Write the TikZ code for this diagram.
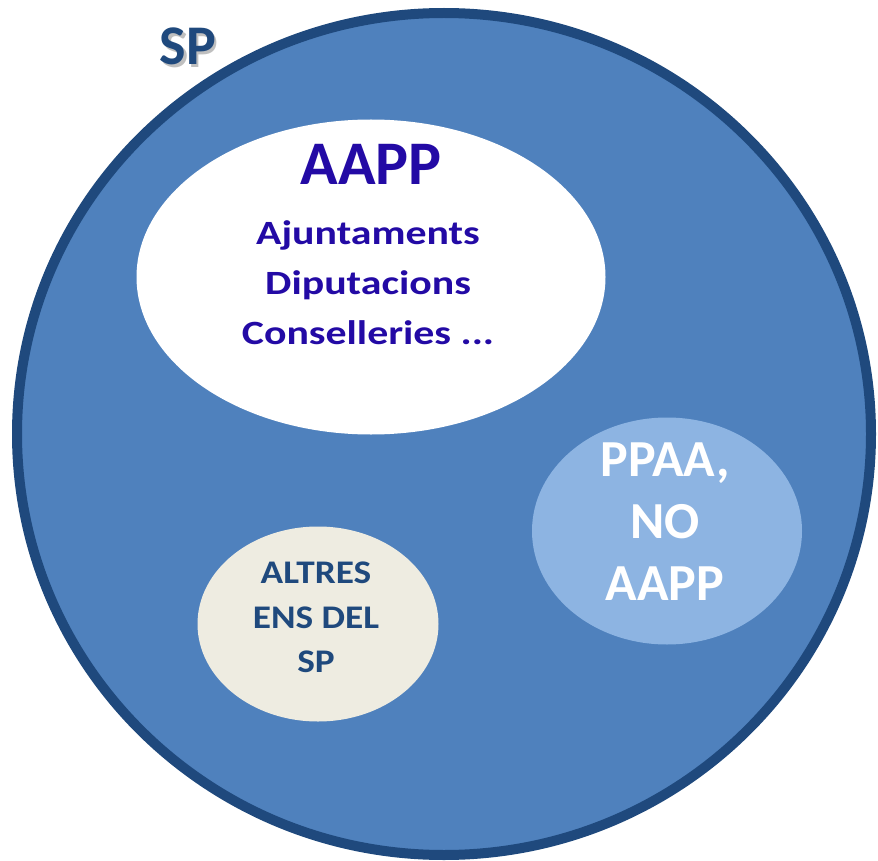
\documentclass[tikz,border=0pt]{standalone}
\usepackage{fontspec}
\setmainfont{Carlito}
\usetikzlibrary{shapes.geometric, positioning}
\definecolor{spblue}{RGB}{79,129,189}
\definecolor{spdark}{RGB}{31,73,125}
\definecolor{ppaablue}{RGB}{141,180,226}
\definecolor{altrescream}{RGB}{238,236,225}
\definecolor{aappviolet}{RGB}{35,10,165}
\tikzset{
set/.style={ellipse, inner sep=0pt}, % every set of the diagram
settext/.style={align=center, inner sep=0pt}, % the names written in a set
wide/.style={xscale=#1, transform shape}, % wider letters
}

\begin{document}
\begin{tikzpicture}[x=1pt, y=-1pt]
        \useasboundingbox (0,0) rectangle (878,861);
        % the sets
        \node[set, fill=spblue, draw=spdark, line width=10pt, minimum width=854pt, minimum height=842pt] (sp) at (444,434) {};
        \node[set, fill=white, minimum width=469pt, minimum height=315pt] (aapp) at (371,277) {};
        \node[set, fill=ppaablue, minimum width=270pt, minimum height=227pt] (ppaa) at (667,531) {};
        \node[set, fill=altrescream, minimum width=241pt, minimum height=195pt] (altres) at (318,624) {};
        % the names
        \node[settext, anchor=base, text=black!25, font=\bfseries\fontsize{56}{56}\selectfont] (spShadow) at (190.5,67.5) {SP};
        \node[settext, anchor=base, text=spdark, font=\bfseries\fontsize{56}{56}\selectfont] (spLabel) at (188,65) {SP};
        \node[settext, anchor=base, text=aappviolet, font=\bfseries\fontsize{62}{62}\selectfont] (aappTitle) at (371,185) {AAPP};
        \node[settext, wide=1.23, anchor=north, text=aappviolet, font=\bfseries\fontsize{34}{50}\selectfont] (aappList) at (368,220) {Ajuntaments\\Diputacions\\Conselleries ...};
        \node[settext, anchor=north, text=white, font=\bfseries\fontsize{52}{62}\selectfont] (ppaaText) at (665,443) {PPAA,\\NO\\AAPP};
        \node[settext, wide=1.13, anchor=north, text=spdark, font=\bfseries\fontsize{33}{44.5}\selectfont] (altresText) at (316,562) {ALTRES\\ENS DEL\\SP};
\end{tikzpicture}
\end{document}
